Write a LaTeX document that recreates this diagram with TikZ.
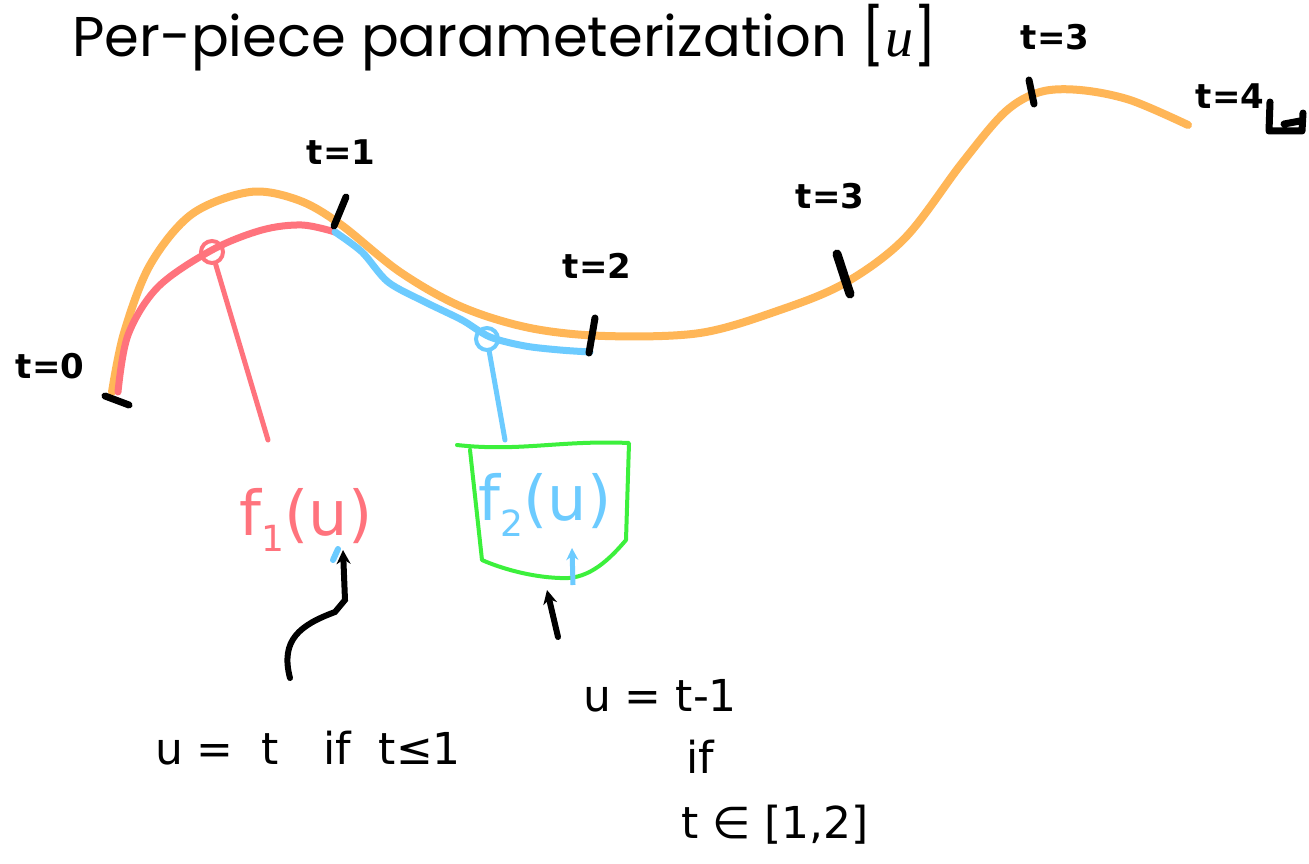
\documentclass[tikz,border=0pt]{standalone}
\usepackage{fontspec}
\setmainfont{Poppins}
\newfontfamily\handfont{DejaVu Sans}
\newfontfamily\varfont{Liberation Serif}
\usetikzlibrary{arrows.meta,calc}
\definecolor{spline}{HTML}{FFB657}
\definecolor{piecered}{HTML}{FF737D}
\definecolor{pieceblue}{HTML}{6CCBFF}
\definecolor{boxgreen}{HTML}{3CF03C}
\tikzset{
  curve/.style={line width=8pt, line cap=round, line join=round},
  tick/.style={draw=black, line width=7pt, line cap=round},
  tlab/.style={font=\handfont\bfseries\fontsize{34}{34}\selectfont, inner sep=0pt},
  fpiece/.style={font=\handfont\fontsize{62}{62}\selectfont, inner sep=0pt},
  cond/.style={font=\handfont\fontsize{44}{44}\selectfont, inner sep=0pt},
  leader/.style={line width=5pt, line cap=round},
  pointer/.style={draw=black, line width=6pt, line cap=round, -{Stealth[length=14pt,width=14pt]}},
}
\newcommand{\lowsub}[1]{{\fontsize{36}{36}\selectfont\raisebox{-16pt}{#1}}}
\begin{document}
\begin{tikzpicture}[x=1pt,y=-1pt]
\useasboundingbox[fill=white] (0,0) rectangle (1309,864);
% title
\node[anchor=base west, inner sep=0pt, font=\fontsize{56}{60}\selectfont] (title) at (72,57) {Per-piece parameterization [{\varfont\itshape u}]};
% the whole spline
\draw[curve, spline] plot[smooth, tension=0.55] coordinates {(112,392) (124,333) (150,265) (192,214) (250,192) (298,200) (340,224) (400,272) (462,307) (530,328) (605,336) (700,333) (780,310) (845,283) (905,238) (962,163) (1005,112) (1040,92) (1080,90) (1130,100) (1188,125)};
% piece 1 and piece 2
\draw[curve, piecered, line width=7pt] plot[smooth, tension=0.55] coordinates {(118,392) (128,335) (158,287) (212,250) (262,230) (302,225) (335,232)};
\draw[curve, pieceblue, line width=7pt] plot[smooth, tension=0.5] coordinates {(335,232) (362,252) (388,282) (425,302) (462,320) (490,337) (525,346) (560,350) (590,352)};
% sample points
\node[circle, draw=piecered, line width=4pt, minimum width=18pt, minimum height=22pt, inner sep=0pt] (c1) at (212,252) {};
\node[circle, draw=pieceblue, line width=4pt, minimum width=16pt, minimum height=22pt, inner sep=0pt] (c2) at (487,339) {};
% knots
\draw[tick] (105,396) -- (129,405);
\draw[tick] (334,226) -- (346,197);
\draw[tick] (589,353) -- (595,318);
\draw[tick, line width=9pt] (837,254) -- (850,294);
\draw[tick] (1029,80) -- (1034,104);
\node[tlab] (lab0) at (50,366) {t=0};
\node[tlab] (lab1) at (341,152) {t=1};
\node[tlab] (lab2) at (597,266) {t=2};
\node[tlab] (lab3a) at (830,196) {t=3};
\node[tlab] (lab3b) at (1055,37) {t=3};
\node[tlab] (lab4) at (1230,96) {t=4};
\draw[line width=7pt, line cap=round, line join=round] (1270,102) -- (1269,131) -- (1302,131) -- (1303,113) (1284,124) -- (1300,121);
% piece functions
\node[fpiece, text=piecered] (f1) at (306,520) {f\lowsub{1}(u)};
\node[fpiece, text=pieceblue] (f2) at (545,505) {f\lowsub{2}(u)};
\coordinate (f1top) at (268,440);
\coordinate (boxtop) at (505,440);
\draw[leader, piecered] (c1) -- (f1top);
\draw[leader, pieceblue] (c2) -- (boxtop);
\draw[line width=4pt, boxgreen, line cap=round, line join=round]
  (457,445) .. controls (520,452) and (560,440) .. (629,443)
  -- (626,540) .. controls (605,565) and (585,580) .. (560,578)
  .. controls (530,577) and (500,568) .. (482,560) -- (470,450);
\draw[line width=6pt, pieceblue, line cap=round] (333,560) -- (338,549);
\draw[line width=5pt, pieceblue, -{Stealth[length=12pt,width=12pt]}] (573,585) -- (572,548);
% conditions
\node[cond] (cond1) at (308,748) {u =\ \ t\quad if\ \ t≤1};
\node[cond] (cond2a) at (660,696) {u = t-1};
\node[cond] (cond2b) at (700,757) {if};
\node[cond] (cond2c) at (775,825) {t ∈ [1,2]};
\coordinate (tail1) at (290,678);
\coordinate (tail2) at (558,637);
\draw[pointer] (tail1) .. controls (280,640) and (300,625) .. (335,612) -- (345,600) -- (343,550);
\draw[pointer] (tail2) -- (547,590);
\end{tikzpicture}
\end{document}
